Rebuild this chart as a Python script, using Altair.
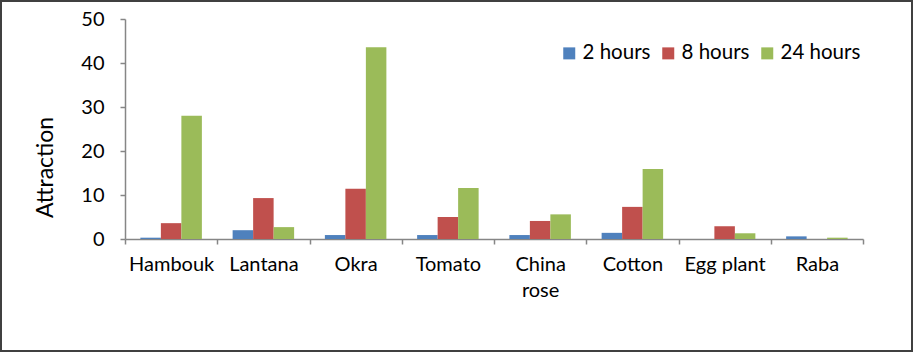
import altair as alt
import pandas as pd

plants = ["Hambouk", "Lantana", "Okra", "Tomato", "China rose", "Cotton", "Egg plant", "Raba"]
series = ["2 hours", "8 hours", "24 hours"]
h2 = [0.3, 2.0, 0.9, 0.9, 0.9, 1.4, 0.0, 0.6]
h8 = [3.6, 9.3, 11.4, 5.0, 4.1, 7.3, 2.9, 0.0]
h24 = [28.0, 2.7, 43.6, 11.6, 5.6, 15.9, 1.3, 0.3]
colors = ["#4F81BD", "#C0504D", "#9BBB59"]

rows = []
for s, vals in zip(series, [h2, h8, h24]):
    for p, v in zip(plants, vals):
        rows.append({"plant": p, "series": s, "value": v})
df = pd.DataFrame(rows)

FONT = "Lato"
AX = "#868686"
FS = 20

bars = alt.Chart(df).mark_bar().encode(
    x=alt.X("plant:N", sort=plants,
            scale=alt.Scale(paddingInner=0, paddingOuter=0),
            axis=alt.Axis(title=None, labelAngle=0, tickBand="extent",
                          labelFont=FONT, labelFontSize=FS, labelColor="#000000",
                          labelPadding=10, tickSize=5, tickColor=AX, domainColor=AX,
                          domainWidth=1.5, tickWidth=1.5, labelLineHeight=26,
                          labelExpr="datum.label == 'China rose' ? ['China', 'rose'] : datum.label")),
    xOffset=alt.XOffset("series:N", sort=series,
                        scale=alt.Scale(paddingOuter=0.75, paddingInner=0)),
    y=alt.Y("value:Q", scale=alt.Scale(domain=[0, 50]),
            axis=alt.Axis(title="Attraction", values=[0, 10, 20, 30, 40, 50], grid=False,
                          labelFont=FONT, labelFontSize=FS, labelColor="#000000",
                          titleFont=FONT, titleFontSize=23, titleFontWeight="normal",
                          titleColor="#000000", titleX=-80, titleY=148, titleAngle=270,
                          titleAlign="center", titleBaseline="middle", labelPadding=16,
                          tickSize=5, tickColor=AX, domainColor=AX, domainWidth=1.5,
                          tickWidth=1.5)),
    color=alt.Color("series:N", sort=series,
                    scale=alt.Scale(domain=series, range=colors),
                    legend=alt.Legend(title=None, orient="none", legendX=434, legendY=24,
                                      direction="horizontal", symbolType="square",
                                      symbolSize=144, symbolStrokeWidth=0,
                                      labelFont=FONT, labelFontSize=20.5, labelColor="#000000",
                                      labelOffset=3, columnPadding=7)),
)

border = alt.Chart(alt.Data(values=[{"a": 1}])).mark_rect(
    filled=False, stroke="#404040", strokeWidth=2
).encode(
    x=alt.value(-124), x2=alt.value(787), y=alt.value(-18), y2=alt.value(332)
)

chart = alt.layer(bars, border).properties(
    width=738, height=220,
    autosize=alt.AutoSizeParams(type="none"),
    padding={"left": 125, "top": 19, "right": 52, "bottom": 115},
    background="#FFFFFF",
).configure_view(stroke=None)

chart.save("out.html", embed_options={"renderer": "svg", "actions": False})
